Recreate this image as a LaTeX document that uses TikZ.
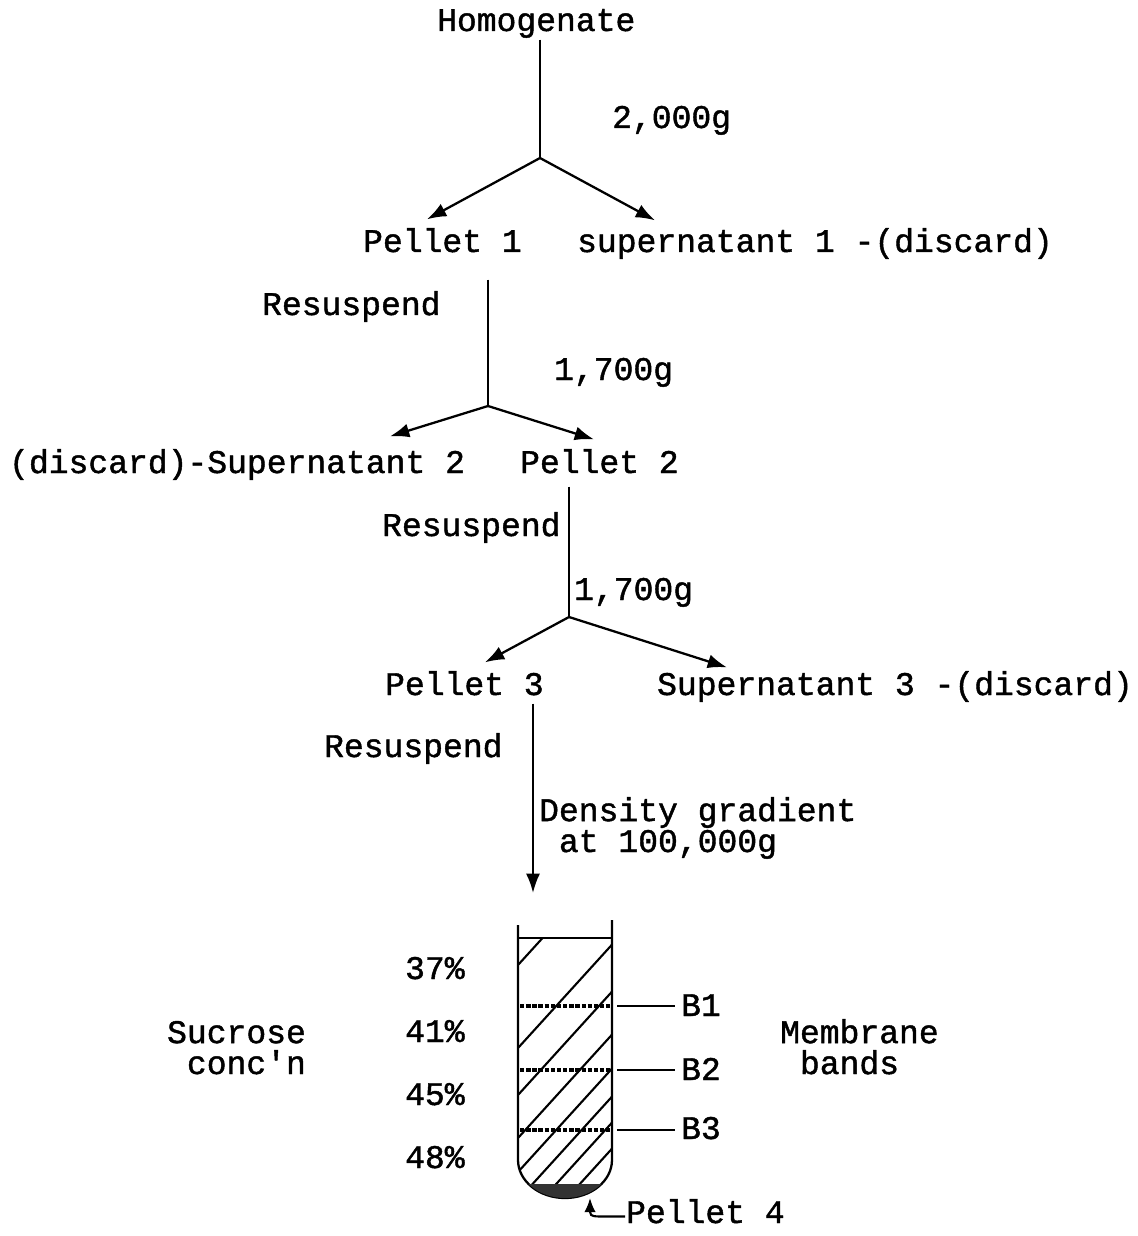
\documentclass[tikz,border=0pt]{standalone}
\usepackage{fontspec}
\newfontfamily\typefont[FakeBold=1.3]{Liberation Mono}
\usetikzlibrary{calc}
\usetikzlibrary{arrows.meta}
\tikzset{>={Latex[length=11pt,width=8pt]}}
\tikzset{txt/.style={anchor=base west, inner sep=0pt, font=\typefont\fontsize{18.8}{18.8}\selectfont, text height=0.41cm, text depth=0.15cm}}
\tikzset{txtml/.style={anchor=base west, inner sep=0pt, align=left, font=\typefont\fontsize{18.8}{17.6}\selectfont}}
\tikzset{band/.style={line width=2.6pt, dash pattern=on 2.5pt off 1pt}}
\tikzset{hatch/.style={line width=1.2pt}}

\begin{document}
\begin{tikzpicture}[x=0.02cm, y=-0.02cm, line width=1.3pt]
\useasboundingbox (0,0) rectangle (1138,1236);

% first spin
\node[txt] (hom) at (436,31) {Homogenate};
\coordinate (br1) at (540,158);
\node[txt] (g1) at (611,128) {2,000g};
\node[txt] (p1) at (362,252) {Pellet 1};
\node[txt] (s1) at (576,252) {supernatant 1 -(discard)};
\draw (hom.south -| br1) -- (br1);
\draw[->] (br1) -- ($(p1.north west)+(65,-11)$);
\draw[->] (br1) -- ($(s1.north west)+(79,-10)$);

% second spin
\node[txt] (rs1) at (261,315) {Resuspend};
\coordinate (br2) at (488,406);
\node[txt] (g2) at (553,380) {1,700g};
\node[txt] (s2) at (8,473) {(discard)-Supernatant 2};
\node[txt] (p2) at (519,473) {Pellet 2};
\draw ($(p1.south -| br2)+(0,19)$) -- (br2);
\draw[->] (br2) -- ($(s2.north west)+(382,-15)$);
\draw[->] (br2) -- ($(p2.north west)+(75,-12)$);

% third spin
\node[txt] (rs2) at (381,536) {Resuspend};
\coordinate (br3) at (569,617);
\node[txt] (g3) at (573,600) {1,700g};
\node[txt] (p3) at (384,695) {Pellet 3};
\node[txt] (s3) at (656,695) {Supernatant 3 -(discard)};
\draw ($(p2.south -| br3)+(0,5)$) -- (br3);
\draw[->] (br3) -- ($(p3.north west)+(101,-11)$);
\draw[->] (br3) -- ($(s3.north west)+(71,-6)$);

% gradient
\node[txt] (rs3) at (323,757) {Resuspend};
\node[txtml] (dg) at (538,852) {Density gradient\\~at 100,000g};
\coordinate (tubein) at (533,893);
\draw[->] (p3.south -| tubein) -- (tubein);

% tube
\coordinate (tl) at (518,925);
\coordinate (tr) at (612,920);
\draw (tl) -- (518,1160) arc[start angle=180, end angle=360, x radius=0.94cm, y radius=0.76cm] -- (tr);
\draw (518,938) -- (612,938);
\begin{scope}
\clip (518,938) -- (518,1160) arc[start angle=180, end angle=360, x radius=0.94cm, y radius=0.76cm] -- (612,938) -- cycle;
\foreach \yl in {965,1048,1095,1138,1172,1200,1226,1252}
  \draw[hatch] (518,\yl) -- ++(110,-121);
\fill[black!80] (500,1184) rectangle (630,1210);
\end{scope}

% bands
\draw[band] (520,1006) -- (610,1006);
\draw[band] (520,1070) -- (610,1070);
\draw[band] (520,1130) -- (610,1130);
\node[txt] (b1) at (680,1016) {B1};
\node[txt] (b2) at (680,1080) {B2};
\node[txt] (b3) at (680,1139) {B3};
\coordinate (k1) at (617,1006);
\coordinate (k2) at (617,1070);
\coordinate (k3) at (617,1130);
\draw[shorten >=3pt] (k1) -- (k1 -| b1.west);
\draw[shorten >=3pt] (k2) -- (k2 -| b2.west);
\draw[shorten >=3pt] (k3) -- (k3 -| b3.west);

% side labels
\node[txt] (c37) at (404,979) {37\%};
\node[txt] (c41) at (404,1042) {41\%};
\node[txt] (c45) at (404,1105) {45\%};
\node[txt] (c48) at (404,1168) {48\%};
\node[txtml] (suc) at (166,1074) {Sucrose\\~conc'n};
\node[txtml] (mem) at (779,1074) {Membrane\\~bands};

% pellet
\node[txt] (p4) at (625,1223) {Pellet 4};
\coordinate (pel) at (590,1198);
\draw[-{Latex[length=8pt,width=6.5pt]}, line width=1.2pt] (p4.west) -- ++(-26,0) .. controls (590,1216) .. (590,1207) -- (pel);
\end{tikzpicture}
\end{document}
